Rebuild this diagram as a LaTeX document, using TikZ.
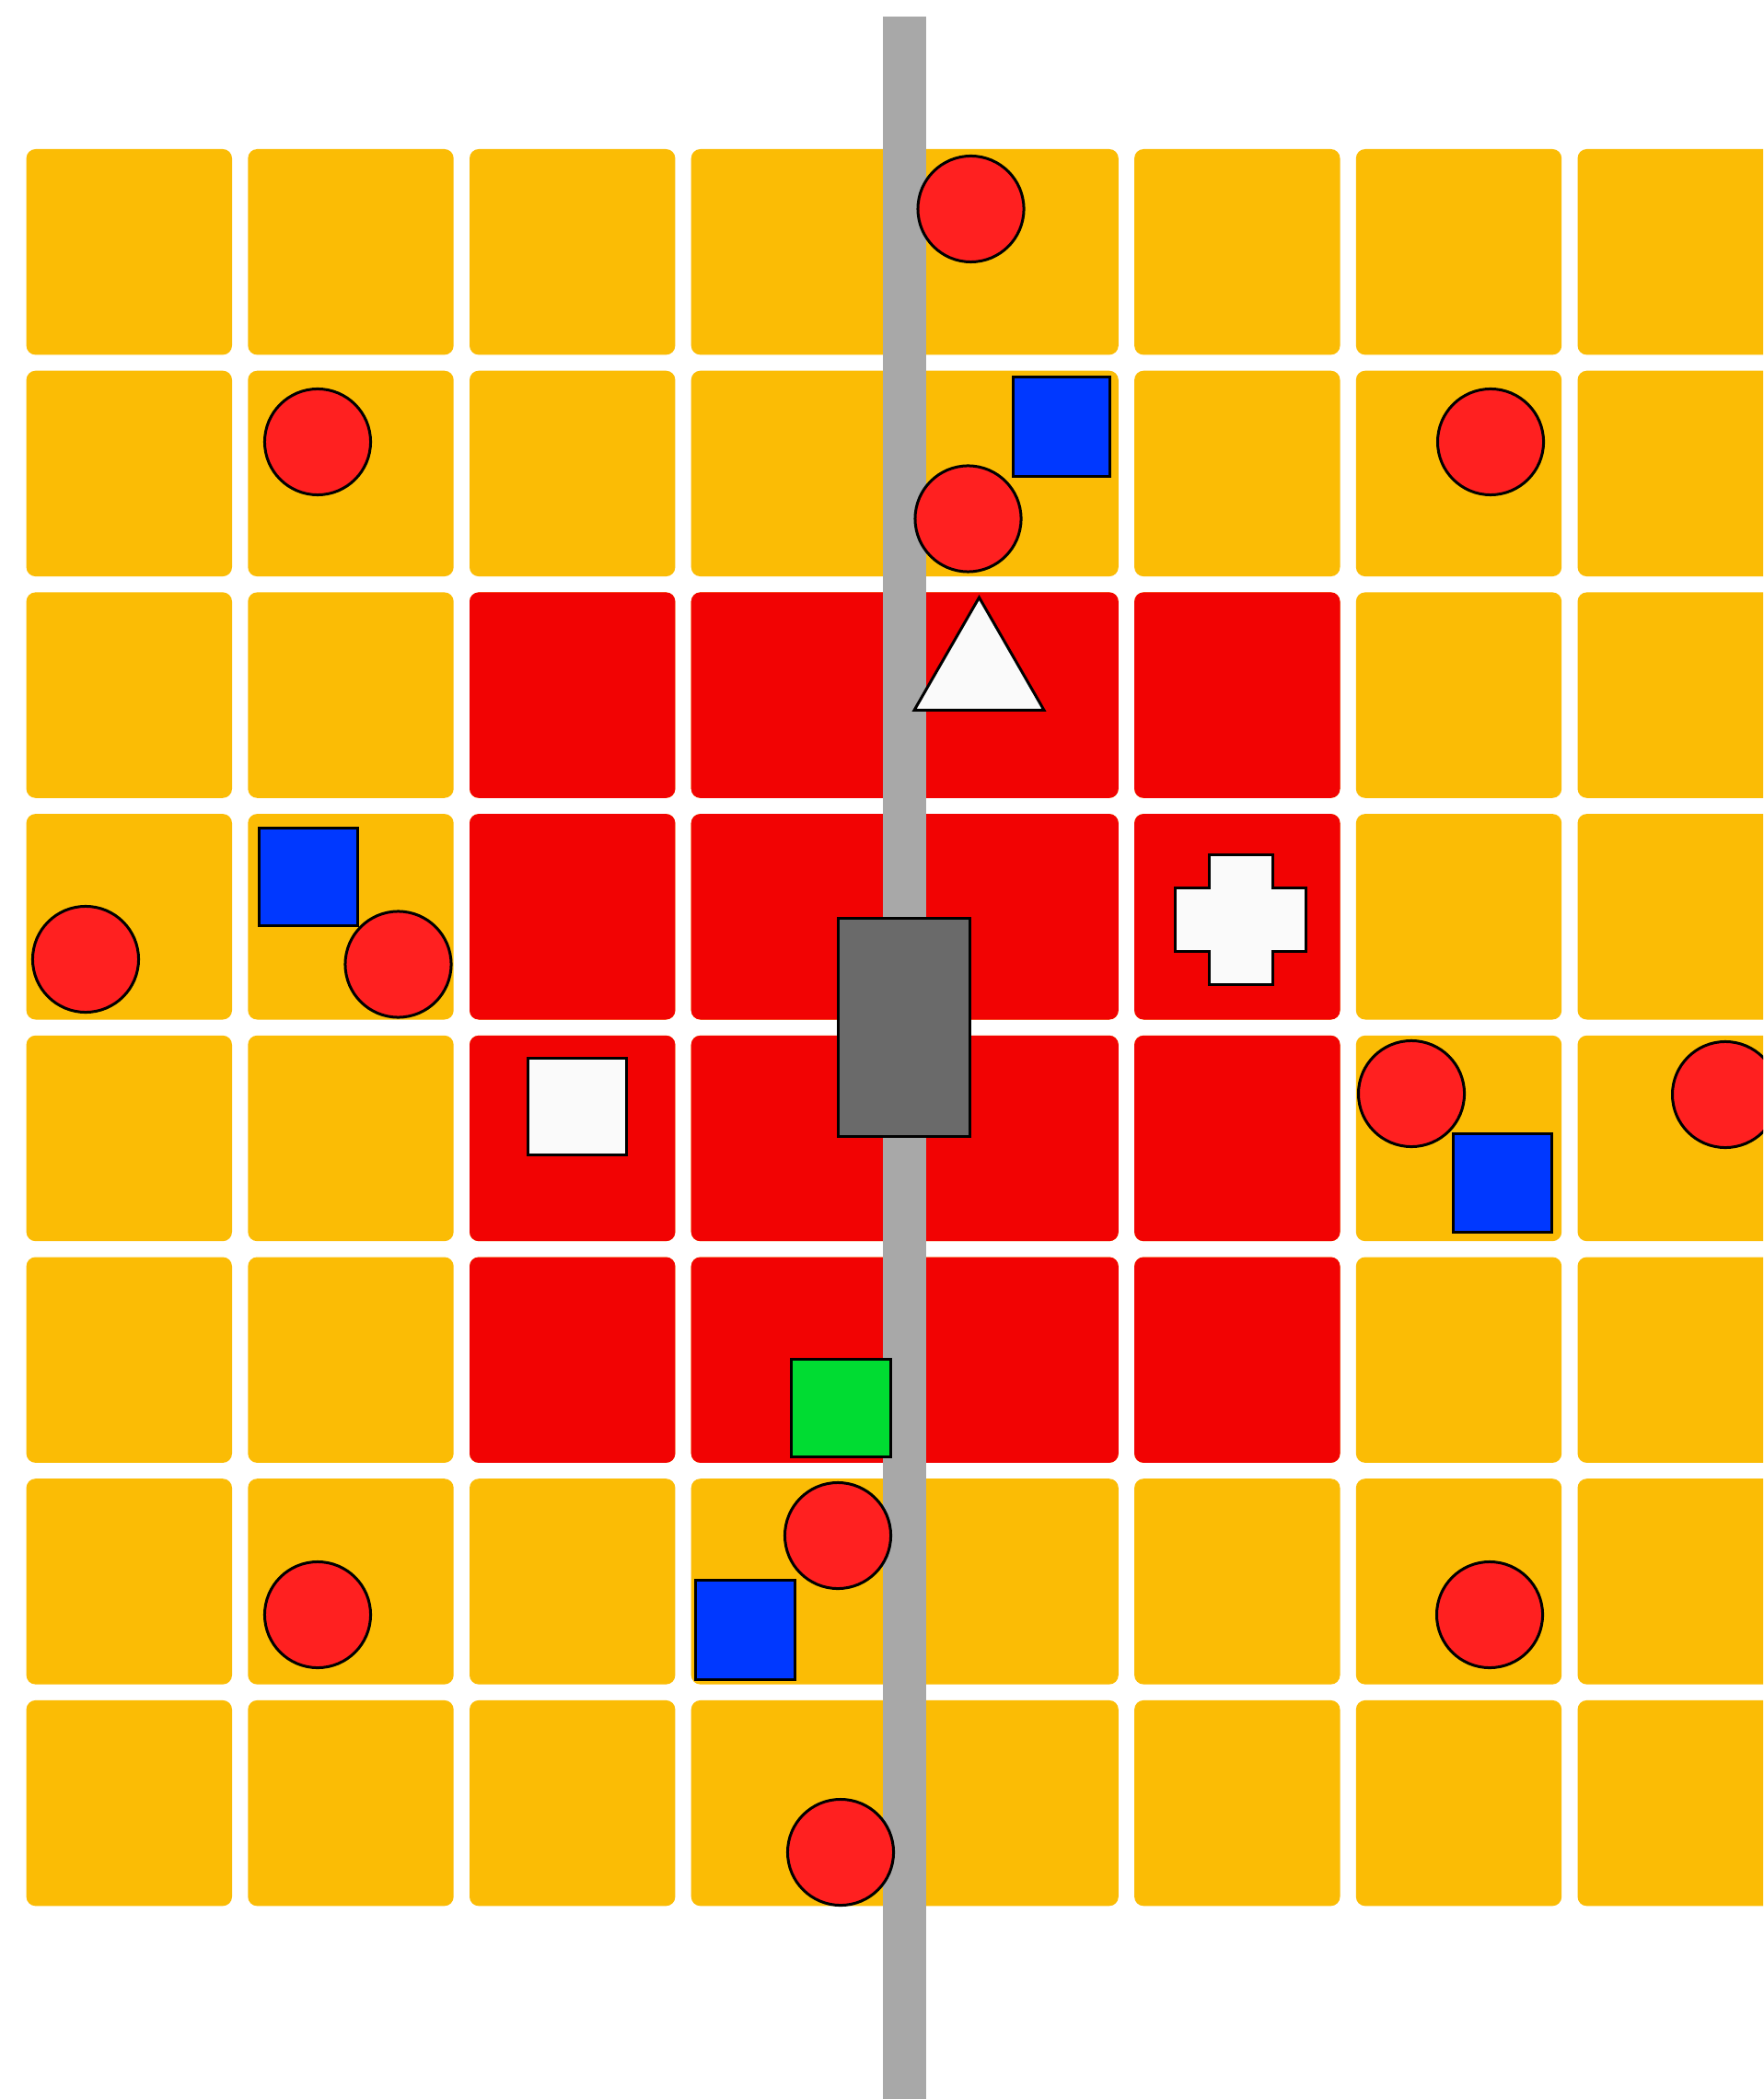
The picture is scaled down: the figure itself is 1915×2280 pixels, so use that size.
\documentclass[tikz,border=0pt]{standalone}
\definecolor{cellyellow}{RGB}{251,188,5}
\definecolor{cellred}{RGB}{242,3,3}
\definecolor{ballred}{RGB}{255,32,32}
\definecolor{boxblue}{RGB}{0,56,255}
\definecolor{boxgreen}{RGB}{0,220,50}
\definecolor{shapewhite}{RGB}{250,250,250}
\definecolor{bargray}{RGB}{168,168,168}
\definecolor{blockgray}{RGB}{106,106,106}
\tikzset{
  cellbox/.style={rounded corners=0.1cm},
  obj/.style={draw=black, line width=0.03cm, line join=miter},
  ball/.style={obj, fill=ballred},
}
\begin{document}
\begin{tikzpicture}[x=0.01cm,y=-0.01cm]
\useasboundingbox (0,0) rectangle (1915,2280);
\clip (0,0) rectangle (1915,2280);
\fill[white] (0,0) rectangle (1915,2280);
% yellow grid
\foreach \i in {0,...,7}{
  \foreach \j in {0,...,7}{
    \fill[cellyellow, cellbox] (28.6+\i*240.7, 162+\j*240.7) rectangle ++(223.4,223.4);
  }
}
% red block
\foreach \i in {2,...,5}{
  \foreach \j in {2,...,5}{
    \fill[cellred, cellbox] (28.6+\i*240.7, 162+\j*240.7) rectangle ++(223.4,223.4);
  }
}
% gray bar
\fill[bargray] (959,18) rectangle (1006,2280);
% dark gray block
\filldraw[obj, fill=blockgray] (910.5,997.5) rectangle (1053.5,1234.5);
% white triangle
\filldraw[obj, fill=shapewhite] (1063.5,649) -- (1134,771.5) -- (993,771.5) -- cycle;
% white cross
\filldraw[obj, fill=shapewhite]
  (1313.5,928.5) -- (1382.5,928.5) -- (1382.5,964.5) -- (1418.5,964.5) -- (1418.5,1033.5)
  -- (1382.5,1033.5) -- (1382.5,1069.5) -- (1313.5,1069.5) -- (1313.5,1033.5) -- (1276.5,1033.5)
  -- (1276.5,964.5) -- (1313.5,964.5) -- cycle;
% white square
\filldraw[obj, fill=shapewhite] (573.5,1149.5) rectangle (680.5,1254.5);
% green square
\filldraw[obj, fill=boxgreen] (859.5,1476.5) rectangle (967.5,1582.5);
% blue squares
\filldraw[obj, fill=boxblue] (1100.5,409.5) rectangle (1205.5,517.5);
\filldraw[obj, fill=boxblue] (281.5,899.5) rectangle (388.5,1005.5);
\filldraw[obj, fill=boxblue] (1578.5,1231.5) rectangle (1685.5,1338.5);
\filldraw[obj, fill=boxblue] (755.5,1716.5) rectangle (863.5,1824.5);
% red balls
\foreach \cx/\cy in {1054.5/227, 345/480, 1619/480, 1051.5/563.5, 93/1042, 432.5/1047.5,
                     1533/1188, 1874/1189, 910/1668, 345/1754, 1618/1754, 913/2012}{
  \filldraw[ball] (\cx,\cy) circle[radius=0.575cm];
}
\end{tikzpicture}
\end{document}
